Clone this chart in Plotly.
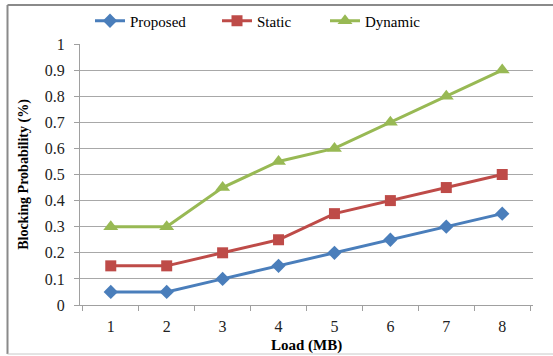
import plotly.graph_objects as go

# Blocking probability versus load for three allocation schemes
loads = ["1", "2", "3", "4", "5", "6", "7", "8"]
proposed = [0.05, 0.05, 0.10, 0.15, 0.20, 0.25, 0.30, 0.35]
static = [0.15, 0.15, 0.20, 0.25, 0.35, 0.40, 0.45, 0.50]
dynamic = [0.30, 0.30, 0.45, 0.55, 0.60, 0.70, 0.80, 0.90]

FONT = "Liberation Serif, Times New Roman, serif"
W, H = 553, 356
ML, MR, MT, MB = 80, 20, 44, 51
PW, PH = W - ML - MR, H - MT - MB

fig = go.Figure()
series = [
    ("Proposed", proposed, "#4A7EBB", "diamond", 11, "legend"),
    ("Static", static, "#BE4B48", "square", 11, "legend2"),
    ("Dynamic", dynamic, "#98B954", "triangle-up", 13, "legend3"),
]
for name, vals, color, symbol, size, leg in series:
    fig.add_trace(go.Scatter(
        x=loads, y=vals, name=name, mode="lines+markers",
        line=dict(color=color, width=3),
        marker=dict(symbol=symbol, size=size, color=color),
        legend=leg, showlegend=True,
    ))


def px_x(p):
    return (p - ML) / PW


def px_y(p):
    return 1 - (p - MT) / PH


legend_style = dict(
    orientation="h", yanchor="middle", xanchor="left",
    font=dict(family=FONT, size=15, color="#000"),
    bgcolor="rgba(0,0,0,0)", borderwidth=0,
)

fig.update_layout(
    width=W, height=H,
    showlegend=True,
    margin=dict(l=ML, r=MR, t=MT, b=MB, autoexpand=False),
    paper_bgcolor="white", plot_bgcolor="white",
    font=dict(family=FONT, size=14, color="#000"),
    legend=dict(x=px_x(90), y=px_y(21), **legend_style),
    legend2=dict(x=px_x(217), y=px_y(21), **legend_style),
    legend3=dict(x=px_x(325), y=px_y(21), **legend_style),
    xaxis=dict(
        type="category", tickson="boundaries", ticks="outside", ticklen=5,
        tickcolor="#a0a0a0", showline=True, linecolor="#a0a0a0", linewidth=1,
        showgrid=False, tickfont=dict(family=FONT, size=16, color="#222"),
        ticklabelstandoff=7, automargin=False,
        title=dict(text="<b>Load (MB)</b>", font=dict(family=FONT, size=15), standoff=5),
    ),
    yaxis=dict(
        range=[0, 1], dtick=0.1, ticks="outside", ticklen=5,
        tickcolor="#a0a0a0", showline=True, linecolor="#a0a0a0", linewidth=1,
        showgrid=True, gridcolor="#a8a8a8", gridwidth=1, zeroline=False,
        tickfont=dict(family=FONT, size=16, color="#222"),
        ticklabelstandoff=6, automargin=False,
        title=dict(text="<b>Blocking Probability (%)</b>", font=dict(family=FONT, size=14), standoff=12),
    ),
)

# Frame around the chart (top, left, bottom edges)
frame = dict(color="#8a8a8a", width=2)
left, top, bottom = px_x(7.5), px_y(5), px_y(354)
fig.add_shape(type="line", xref="paper", yref="paper", x0=left, x1=px_x(W + 5), y0=top, y1=top, line=frame)
fig.add_shape(type="line", xref="paper", yref="paper", x0=left, x1=left, y0=top, y1=bottom, line=frame)
fig.add_shape(type="line", xref="paper", yref="paper", x0=left, x1=px_x(W + 5), y0=bottom, y1=bottom,
              line=dict(color="#c8c8c8", width=1))

fig.write_html("out.html")
